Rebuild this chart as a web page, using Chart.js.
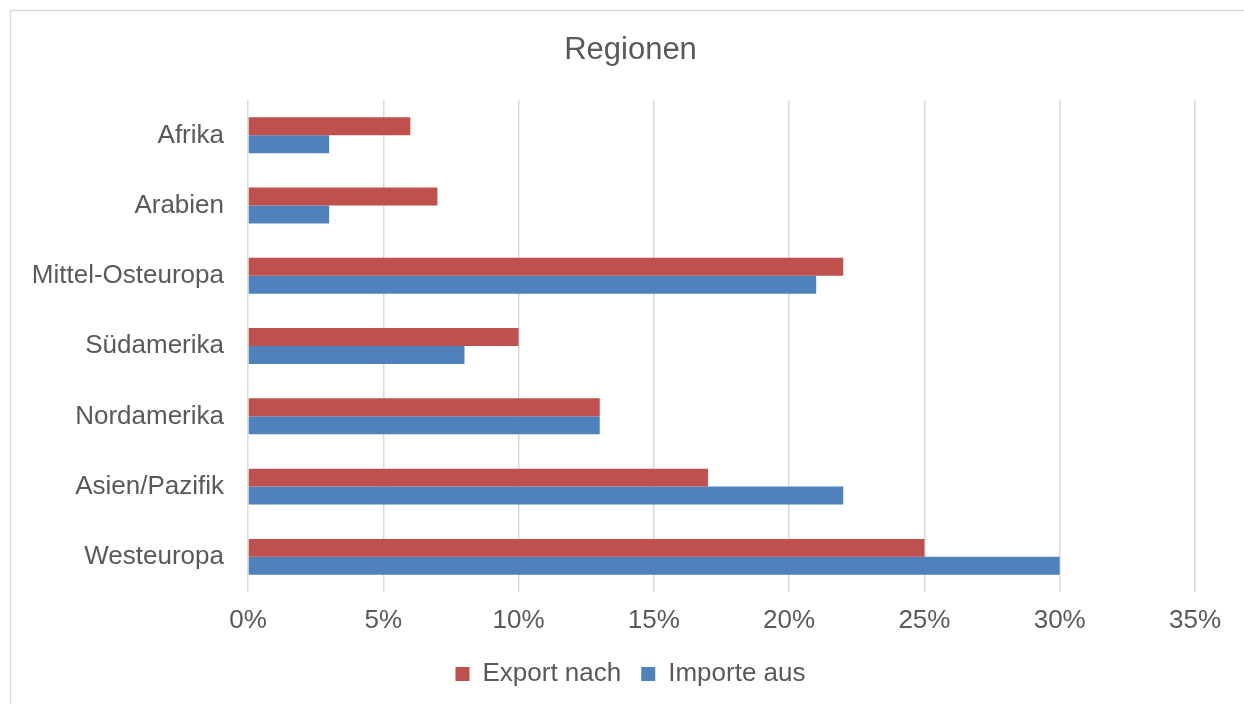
<!DOCTYPE html>
<html>
<head>
<meta charset="utf-8">
<script src="https://cdn.jsdelivr.net/npm/chart.js@4"></script>
<style>
    html, body { margin: 0; padding: 0; background: #fff; }
    #wrap { width: 1244px; height: 704px; position: relative; }
</style>
</head>
<body>
<div id="wrap"><canvas id="chart" width="1244" height="704"></canvas></div>
<script>
const regions = ['Afrika', 'Arabien', 'Mittel-Osteuropa', 'Südamerika', 'Nordamerika', 'Asien/Pazifik', 'Westeuropa'];
const exportNach = [6, 7, 22, 10, 13, 17, 25];
const importeAus = [3, 3, 21, 8, 13, 22, 30];

const textColor = '#595959';
const gridColor = '#d9d9d9';
const fontFamily = 'Liberation Sans, Arial, sans-serif';

// Outer chart frame (runs off the right and bottom edge like the original)
const framePlugin = {
    id: 'frame',
    beforeDraw(chart) {
        const ctx = chart.ctx;
        ctx.save();
        ctx.strokeStyle = gridColor;
        ctx.lineWidth = 1.5;
        ctx.strokeRect(10.5, 10.5, 1260, 720);
        ctx.restore();
    }
};

// Title and legend are centred on the whole frame in the original, not on the plot
const shiftPlugin = {
    id: 'shiftCentre',
    afterLayout(chart) {
        const dx = 33;
        [chart.titleBlock, chart.legend].forEach(box => {
            if (!box) return;
            box.left += dx;
            box.right += dx;
        });
    }
};

new Chart(document.getElementById('chart'), {
    type: 'bar',
    data: {
        labels: regions,
        datasets: [
            { label: 'Export nach', data: exportNach, backgroundColor: '#c0504d' },
            { label: 'Importe aus', data: importeAus, backgroundColor: '#4f81bd' }
        ]
    },
    options: {
        indexAxis: 'y',
        responsive: false,
        animation: false,
        devicePixelRatio: 1,
        datasets: {
            bar: { categoryPercentage: 0.512, barPercentage: 1 }
        },
        layout: { padding: { left: 0, right: 49, top: 0, bottom: 7 } },
        plugins: {
            title: {
                display: true,
                text: 'Regionen',
                color: textColor,
                font: { family: fontFamily, size: 31, weight: 'normal' },
                padding: { top: 32, bottom: 31 }
            },
            legend: {
                position: 'bottom',
                labels: {
                    color: textColor,
                    font: { family: fontFamily, size: 26 },
                    boxWidth: 14,
                    boxHeight: 14,
                    padding: 20
                }
            },
            tooltip: { enabled: false }
        },
        scales: {
            x: {
                min: 0,
                max: 35,
                ticks: {
                    stepSize: 5,
                    padding: 13,
                    color: textColor,
                    font: { family: fontFamily, size: 26 },
                    callback: v => v + '%'
                },
                grid: { color: gridColor, lineWidth: 1.5, drawTicks: false },
                border: { display: false },
                afterFit: axis => { axis.height = 49; }
            },
            y: {
                ticks: {
                    padding: 24,
                    color: textColor,
                    font: { family: fontFamily, size: 26 }
                },
                grid: { display: false, drawTicks: false },
                border: { display: false },
                afterFit: axis => { axis.width = 248; }
            }
        }
    },
    plugins: [framePlugin, shiftPlugin]
});
</script>
</body>
</html>
